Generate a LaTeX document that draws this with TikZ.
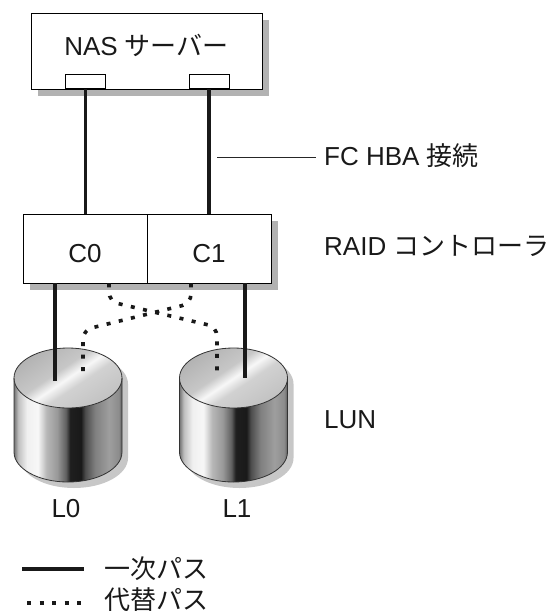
\documentclass[tikz,border=0pt]{standalone}
\usepackage{fontspec}
\setmainfont{Liberation Sans}
\newfontfamily\jp{Noto Sans CJK JP}
\usetikzlibrary{calc,shadows}

% metallic side of a disk cylinder
\pgfdeclarehorizontalshading{cylside}{100bp}{
 color(0bp)=(black!55);
 color(25bp)=(black!55);
 color(27bp)=(black!25);
 color(31bp)=(black!6);
 color(36bp)=(black!3);
 color(38bp)=(black!15);
 color(40bp)=(black!28);
 color(45bp)=(black!40);
 color(49bp)=(black!62);
 color(51bp)=(black!88);
 color(56bp)=(black!90);
 color(58bp)=(black!70);
 color(62.5bp)=(black!50);
 color(69bp)=(black!38);
 color(73.5bp)=(black!45);
 color(75bp)=(black!65);
 color(100bp)=(black!65)}
% brushed top face with a diagonal sheen
\pgfdeclarehorizontalshading{cyltop}{100bp}{
 color(0bp)=(black!30);
 color(25bp)=(black!30);
 color(43bp)=(black!22);
 color(50bp)=(black!3);
 color(57bp)=(black!18);
 color(75bp)=(black!24);
 color(100bp)=(black!24)}

\tikzset{
  box/.style={draw=black, line width=0.8pt, fill=white, inner sep=0pt},
  boxshadow/.style={drop shadow={shadow xshift=6.5pt, shadow yshift=-6.5pt, fill=black!30, opacity=1}},
  txt/.style={inner sep=0pt, font=\fontsize{26}{30}\selectfont, text=black!90},
  primary/.style={line width=3.3pt, draw=black!90},
  altpath/.style={line width=3.6pt, draw=black!90, dash pattern=on 4pt off 8.5pt},
  leader/.style={line width=0.9pt, draw=black!85},
  cyledge/.style={line width=0.8pt, draw=black!80},
}

\begin{document}
\begin{tikzpicture}[x=1pt, y=-1pt]
\useasboundingbox (0,0) rectangle (553,611);

% NAS server with its two HBA ports
\node[box, boxshadow, minimum width=231pt, minimum height=76pt] (nas) at (146.5,51) {};
\node[txt, anchor=base] (nastext) at (146.5,55) {NAS {\jp サーバー}};
\node[box, minimum width=40pt, minimum height=14.5pt, anchor=south] (p0) at (85.5,89) {};
\node[box, minimum width=40pt, minimum height=14.5pt, anchor=south] (p1) at (209,89) {};

% RAID controller pair
\node[box, boxshadow, minimum width=248pt, minimum height=69pt] (raid) at (147,248.5) {};
\node[box, minimum width=124pt, minimum height=69pt, anchor=north west] (c0) at (raid.north west) {};
\node[box, minimum width=124pt, minimum height=69pt, anchor=north east] (c1) at (raid.north east) {};
\node[txt, anchor=base] (c0t) at ($(c0.south)+(0,-21)$) {C0};
\node[txt, anchor=base] (c1t) at ($(c1.south)+(0,-21)$) {C1};

% FC links between server and controllers
\draw[primary] (p0.south) -- (p0.south |- raid.north);
\draw[primary] (p1.south) -- (p1.south |- raid.north);

% two LUN cylinders
\foreach \cx/\nm in {68/0, 233.5/1}{
  \fill[black!22] ({\cx-48},384) -- ({\cx-48},458)
     arc[start angle=180, end angle=0, x radius=54, y radius=30]
     -- ({\cx+60},384)
     arc[start angle=0, end angle=-180, x radius=54, y radius=30] -- cycle;
  \shade[shading=cylside] ({\cx-54},378) -- ({\cx-54},452)
     arc[start angle=180, end angle=0, x radius=54, y radius=30]
     -- ({\cx+54},378)
     arc[start angle=0, end angle=180, x radius=54, y radius=30] -- cycle;
  \shade[shading=cyltop, shading angle=-56] (\cx,378) ellipse[x radius=54, y radius=30];
  \draw[cyledge] ({\cx-54},378) -- ({\cx-54},452)
     arc[start angle=180, end angle=0, x radius=54, y radius=30]
     -- ({\cx+54},378);
  \draw[cyledge] (\cx,378) ellipse[x radius=54, y radius=30];
}
\coordinate (l0a) at (55,381);
\coordinate (l0b) at (83,378);
\coordinate (l1a) at (245,378);
\coordinate (l1b) at (217,372);
\node[txt, anchor=base] (l0) at (66,517) {L0};
\node[txt, anchor=base] (l1) at (237,517) {L1};

% primary paths
\draw[primary] (l0a |- raid.south) -- (l0a);
\draw[primary] (l1a |- raid.south) -- (l1a);

% alternate (crossed) paths
\draw[altpath, rounded corners=9pt] ($(c0.south)+(24,0)$) -- ++(0,18) -- (217,327) -- (l1b);
\draw[altpath, rounded corners=9pt] ($(c1.south)+(-18,0)$) -- ++(0,20) -- (83,330) -- (l0b);

% side labels
\coordinate (tap) at (217,157);
\node[txt, anchor=base west] (fc) at (324,165) {FC HBA {\jp 接続}};
\draw[leader, shorten >=8pt] (tap) -- (tap -| fc.west);
\node[txt, anchor=base west] (raidlbl) at (324,255) {RAID {\jp コントローラ}};
\node[txt, anchor=base west] (lun) at (324,428) {LUN};

% legend
\coordinate (k1a) at (22,569);
\coordinate (k1b) at (84,569);
\coordinate (k2a) at (27,603);
\coordinate (k2b) at (86,603);
\draw[primary] (k1a) -- (k1b);
\draw[altpath] (k2a) -- (k2b);
\node[txt, anchor=base west] (key1) at (104,578) {\jp 一次パス};
\node[txt, anchor=base west] (key2) at (104,609) {\jp 代替パス};
\end{tikzpicture}
\end{document}
